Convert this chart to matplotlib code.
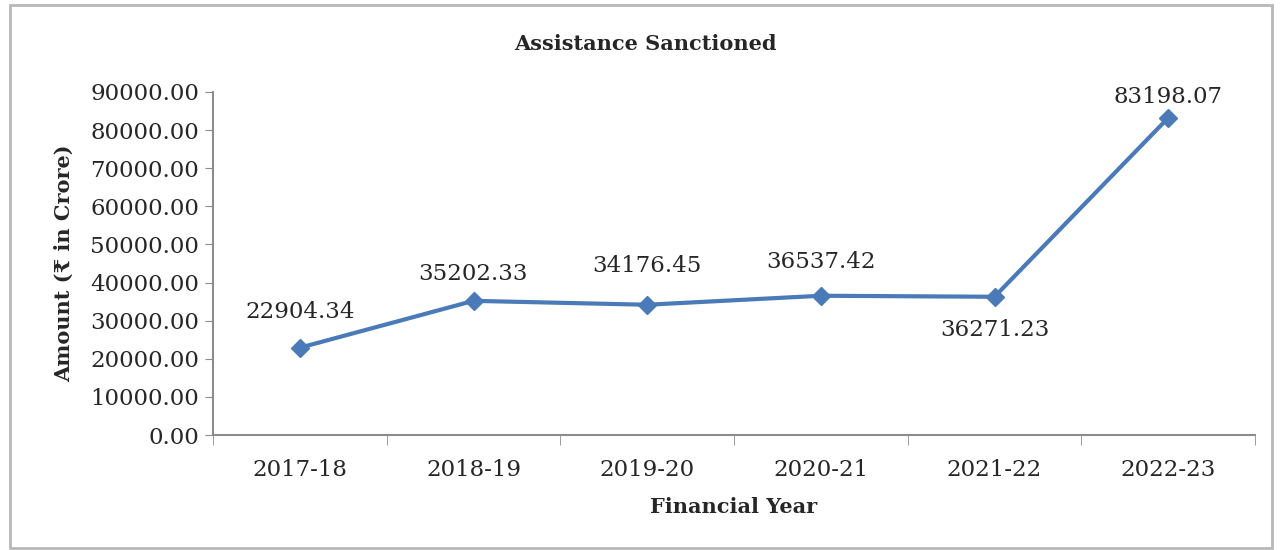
import matplotlib
matplotlib.use("Agg")
import matplotlib.pyplot as plt
from matplotlib.patches import Rectangle
from matplotlib.ticker import FixedLocator, FuncFormatter

years = ["2017-18", "2018-19", "2019-20", "2020-21", "2021-22", "2022-23"]
amounts = [22904.34, 35202.33, 34176.45, 36537.42, 36271.23, 83198.07]
y_ticks = [0, 10000, 20000, 30000, 40000, 50000, 60000, 70000, 80000, 90000]

# vertical offset (points) of each value label from its marker
label_offsets = [26, 19, 28, 24, -24, 15]

serif = ["DejaVu Serif", "DejaVu Sans"]
plt.rcParams["font.family"] = serif

W, H = 1283, 550
fig = plt.figure(figsize=(W / 100, H / 100), dpi=100)
fig.patch.set_facecolor("white")

# outer chart frame
fig.add_artist(Rectangle((10 / W, 1 - 548 / H), 1262 / W, 543 / H,
                         transform=fig.transFigure, fill=False,
                         edgecolor="#b8b8b8", linewidth=2))

left, right = 213 / W, 1255 / W
bottom, top = 1 - 435 / H, 1 - 92 / H
ax = fig.add_axes([left, bottom, right - left, top - bottom])

x = list(range(len(years)))
line_color = "#4a7ab8"
ax.plot(x, amounts, color=line_color, linewidth=3, marker="D",
        markersize=9, markeredgecolor=line_color, zorder=3)

ax.set_xlim(-0.5, len(years) - 0.5)
ax.set_ylim(0, 90000)
ax.yaxis.set_major_locator(FixedLocator(y_ticks))
ax.yaxis.set_major_formatter(FuncFormatter(lambda v, p: f"{v:.2f}"))
ax.set_xticks(x)
ax.set_xticklabels(years)
ax.set_xticks([i + 0.5 for i in range(-1, len(years))], minor=True)

for s in ["top", "right"]:
    ax.spines[s].set_visible(False)
for s in ["left", "bottom"]:
    ax.spines[s].set_color("#8c8c8c")
    ax.spines[s].set_linewidth(1.5)

num_size = 16.5
ax.tick_params(axis="y", length=6, color="#8c8c8c", labelsize=num_size,
               labelcolor="#262626", pad=4)
ax.tick_params(axis="x", which="major", length=0, labelsize=num_size,
               labelcolor="#262626", pad=17)
ax.tick_params(axis="x", which="minor", length=7, color="#8c8c8c")

for xi, v, off in zip(x, amounts, label_offsets):
    ax.annotate(f"{v:.2f}", (xi, v),
                xytext=(0, off), textcoords="offset points",
                ha="center", va="center", fontsize=num_size, color="#262626")

ax.set_ylabel("Amount (₹ in Crore)", fontsize=15, fontweight="bold",
              color="#262626", labelpad=12)
ax.set_xlabel("Financial Year", fontsize=15, fontweight="bold",
              color="#262626", labelpad=12)
fig.text(645 / W, 1 - 44 / H, "Assistance Sanctioned", ha="center",
         va="center", fontsize=15, fontweight="bold", color="#262626")

fig.savefig("out.png", dpi=100, facecolor="white")
